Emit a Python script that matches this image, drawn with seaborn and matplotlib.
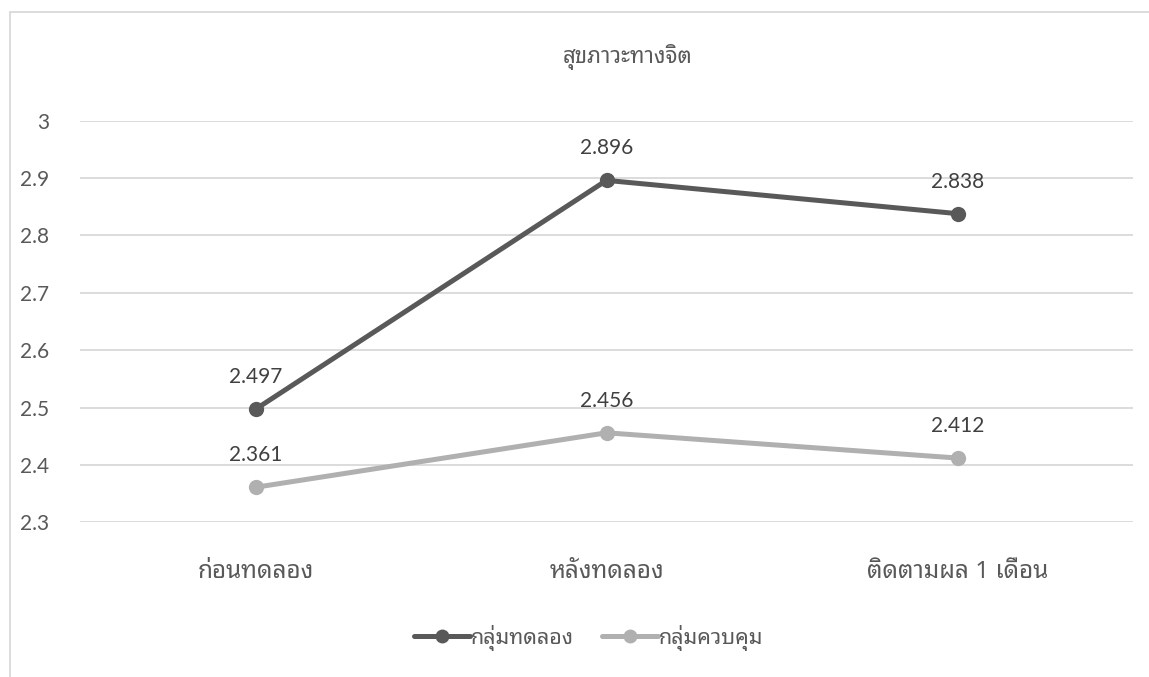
import matplotlib
matplotlib.use("Agg")
import pandas as pd
import seaborn as sns
import matplotlib.pyplot as plt
from matplotlib.patches import Rectangle
from matplotlib.lines import Line2D

# ข้อมูล
periods = ["ก่อนทดลอง", "หลังทดลอง", "ติดตามผล 1 เดือน"]
groups = ["กลุ่มทดลอง", "กลุ่มควบคุม"]
experimental = [2.497, 2.896, 2.838]
control = [2.361, 2.456, 2.412]
yticks = [2.3, 2.4, 2.5, 2.6, 2.7, 2.8, 2.9, 3.0]
ytick_labels = ["2.3", "2.4", "2.5", "2.6", "2.7", "2.8", "2.9", "3"]

colors = {"กลุ่มทดลอง": "#595959", "กลุ่มควบคุม": "#b0b0b0"}

df = pd.DataFrame({
    "period": periods * 2,
    "x": list(range(len(periods))) * 2,
    "score": experimental + control,
    "group": [groups[0]] * 3 + [groups[1]] * 3,
})

sns.set_theme(style="white")
num_font = ["Lato", "Noto Sans Thai Looped"]
thai_font = ["Noto Sans Thai Looped", "Lato"]

W, H = 1149, 677
fig = plt.figure(figsize=(W / 100, H / 100), dpi=100)
ax = fig.add_axes([80 / W, 1 - 522.3 / H, (1133 - 80) / W, (522.3 - 120.7) / H])

# กรอบของแผนภูมิ
fig.patches.append(Rectangle((10 / W, -0.1), 1.2, 1 - 12 / H + 0.1, transform=fig.transFigure,
                             fill=False, edgecolor="#d9d9d9", linewidth=1.3))

sns.lineplot(data=df, x="x", y="score", hue="group", palette=colors, ax=ax,
             marker="o", markersize=11, markeredgewidth=0, linewidth=3.6,
             sort=False, legend=False, zorder=3)

ax.set_xlim(-0.5, 2.5)
ax.set_ylim(2.3, 3.0)
ax.set_yticks(yticks)
ax.set_yticklabels(ytick_labels, family=num_font, fontsize=15, color="#595959")
ax.set_xticks(range(len(periods)))
ax.set_xticklabels(periods, family=thai_font, fontsize=17.5, fontweight="light", color="#595959")
ax.tick_params(axis="y", length=0, pad=22)
ax.tick_params(axis="x", length=0, pad=27)
ax.set_xlabel("")
ax.set_ylabel("")
ax.grid(axis="y", color="#d9d9d9", linewidth=1.3)
ax.grid(axis="x", visible=False)
for s in ax.spines.values():
    s.set_visible(False)

# ป้ายค่าข้อมูล
for vals in (experimental, control):
    for i, v in enumerate(vals):
        ax.annotate(f"{v:.3f}", (i, v), xytext=(0, 32), textcoords="offset pixels",
                    ha="center", va="center", family=num_font, fontsize=15, color="#404040")

fig.text(628 / W, 1 - 57 / H, "สุขภาวะทางจิต", ha="center", va="center",
         family=thai_font, fontsize=16, fontweight="light", color="#595959")

handles = [Line2D([], [], color=colors[g], linewidth=3.6, marker="o", markersize=10,
                  markeredgewidth=0) for g in groups]
leg = ax.legend(handles, groups, loc="center", bbox_to_anchor=(589 / W, 1 - 638 / H),
                bbox_transform=fig.transFigure, ncol=2, frameon=False,
                handlelength=2.6, handletextpad=0.05, columnspacing=1.3,
                prop={"family": thai_font, "size": 15.5})
for t in leg.get_texts():
    t.set_color("#595959")

fig.savefig("out.png", dpi=100)
